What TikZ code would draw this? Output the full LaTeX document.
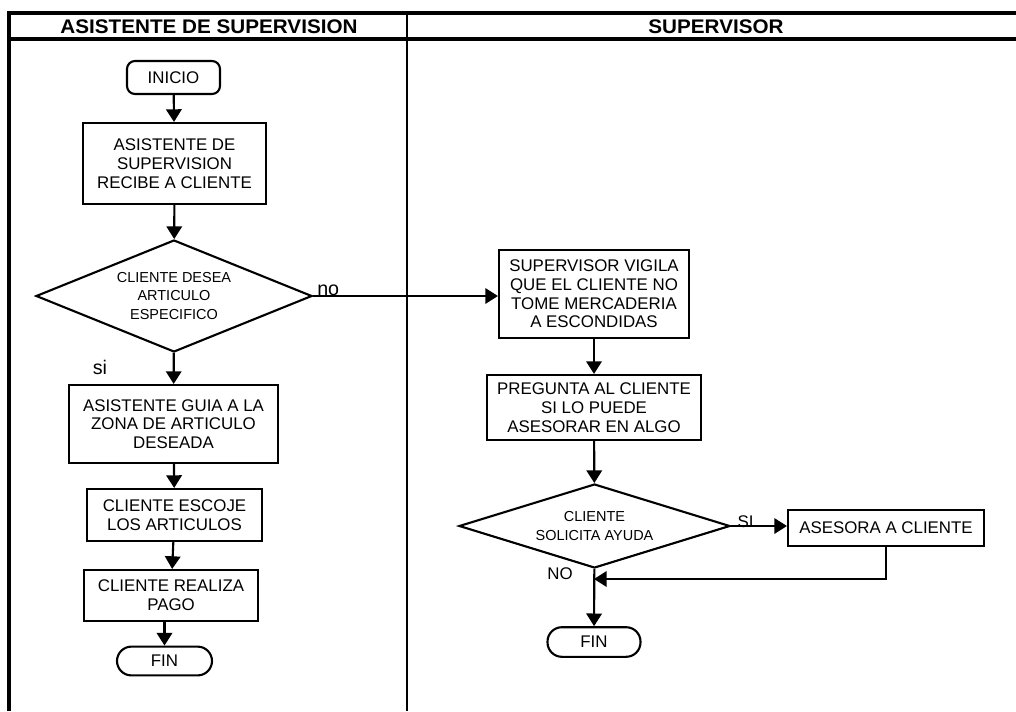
\documentclass[tikz,border=0pt]{standalone}
\usepackage{fontspec}
\setmainfont{Liberation Sans}
\newfontfamily\headfont[FakeStretch=1.05]{Liberation Sans}
\usetikzlibrary{arrows.meta, shapes.geometric}

\begin{document}
\begin{tikzpicture}[x=0.25mm, y=-0.25mm,
  box/.style={draw, line width=1.5pt, align=center, inner sep=0pt,
    font=\fontsize{12}{13.3}\selectfont},
  term/.style={box, rounded corners=2mm},
  endterm/.style={box, rounded corners=3.6mm},
  decision/.style={draw, diamond, line width=1.5pt, align=center, inner sep=0pt,
    font=\fontsize{10.3}{13}\selectfont},
  flow/.style={line width=1.5pt, -{Triangle[length=9pt, width=11pt]}},
  lane/.style={line width=2.2pt},
  lbl/.style={inner sep=0pt}]
  \useasboundingbox (0,0) rectangle (1016,711);

  % swimlanes
  \draw[lane] (9,711) -- (9,13) -- (1016,13);
  \draw[lane] (9,39) -- (1016,39);
  \draw[line width=1.6pt] (407,13) -- (407,711);
  \node[lbl, font=\headfont\bfseries\fontsize{14}{15}\selectfont] (lane1) at (209,27) {ASISTENTE DE SUPERVISION};
  \node[lbl, font=\headfont\bfseries\fontsize{14}{15}\selectfont] (lane2) at (716,27) {SUPERVISOR};

  % asistente de supervision
  \node[term, minimum width=23.25mm, minimum height=8.25mm] (inicio) at (173.5,77.5) {INICIO};
  \node[box, minimum width=45.75mm, minimum height=20.25mm] (recibe) at (174.5,163.5) {ASISTENTE DE\\SUPERVISION\\RECIBE A CLIENTE};
  \node[decision, aspect=2.46, minimum width=69mm, minimum height=28mm] (desea) at (174,296) {CLIENTE DESEA\\ARTICULO\\ESPECIFICO};
  \node[box, minimum width=52.25mm, minimum height=19.5mm] (guia) at (173.5,424) {ASISTENTE GUIA A LA\\ZONA DE ARTICULO\\DESEADA};
  \node[box, minimum width=43.75mm, minimum height=13mm] (escoje) at (174.5,515) {CLIENTE ESCOJE\\LOS ARTICULOS};
  \node[box, minimum width=43.5mm, minimum height=12.75mm] (pago) at (171,595.5) {CLIENTE REALIZA\\PAGO};
  \node[endterm, minimum width=23.75mm, minimum height=7.2mm] (fin1) at (164.5,661) {FIN};

  % supervisor
  \node[box, minimum width=47.5mm, minimum height=22mm] (vigila) at (594,294) {SUPERVISOR VIGILA\\QUE EL CLIENTE NO\\TOME MERCADERIA\\A ESCONDIDAS};
  \node[box, minimum width=53.5mm, minimum height=16.25mm] (pregunta) at (594,407.5) {PREGUNTA AL CLIENTE\\SI LO PUEDE\\ASESORAR EN ALGO};
  \node[decision, aspect=3.2, minimum width=67.75mm, minimum height=21mm] (solicita) at (594.5,526) {CLIENTE\\SOLICITA AYUDA};
  \node[box, minimum width=49mm, minimum height=9mm] (asesora) at (886,528) {ASESORA A CLIENTE};
  \node[endterm, minimum width=23.25mm, minimum height=7.4mm] (fin2) at (594,642) {FIN};
  \coordinate (join) at (594,579);

  \node[lbl, anchor=south west, font=\fontsize{14}{14}\selectfont] (nolbl) at (317,296) {no};
  \node[lbl, font=\fontsize{14}{14}\selectfont] (silbl) at (100,367) {si};
  \node[lbl, font=\fontsize{12}{12}\selectfont] (SIlbl) at (745.5,522) {SI};
  \node[lbl, font=\fontsize{12}{12}\selectfont] (NOlbl) at (560,574) {NO};

  \draw[flow] (inicio) -- (recibe);
  \draw[flow] (recibe) -- (desea);
  \draw[flow] (desea) -- (guia);
  \draw[flow] (guia) -- (escoje);
  \draw[flow] (escoje) -- (pago);
  \draw[flow] (fin1.north |- pago.south) -- (fin1);
  \draw[flow] (desea.east) -- (desea.east -| vigila.west);
  \draw[flow] (vigila) -- (pregunta);
  \draw[flow] (pregunta) -- (solicita);
  \draw[flow] (solicita.east) -- (solicita.east -| asesora.west);
  \draw[flow] (solicita) -- (fin2);
  \draw[flow] (asesora.south) |- (join);
\end{tikzpicture}
\end{document}
